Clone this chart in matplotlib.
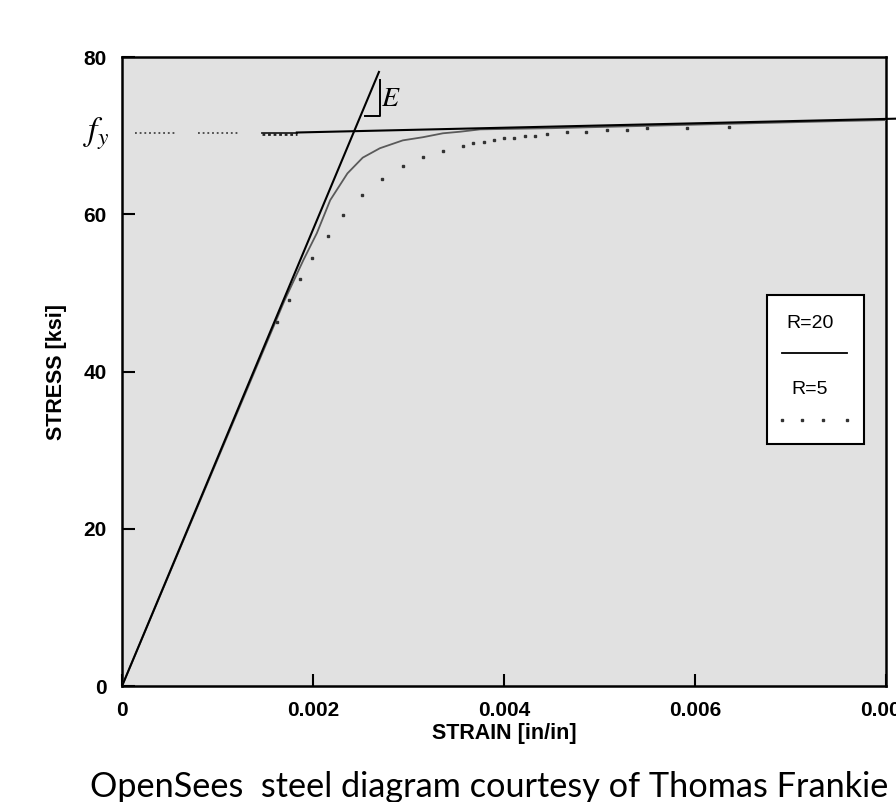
import matplotlib
matplotlib.use('Agg')
import matplotlib.pyplot as plt
from matplotlib.patches import Rectangle
from matplotlib.lines import Line2D

plt.rcParams['font.family'] = ['Liberation Sans', 'DejaVu Sans']
plt.rcParams['mathtext.fontset'] = 'stix'

# Values (strain in in/in, stress in ksi)
elastic_strain = [0.0, 0.00269]
elastic_stress = [0.0, 78.1]

fy_strain = [0.00183, 0.00825]
fy_stress = [70.4, 72.2]

fy_ref_strain = [[0.000136, 0.000576], [0.0008, 0.00124]]
fy_ref_stress = 70.4
fy_tick_strain = [0.00147, 0.00183]

r20_strain = [0.0, 0.0017, 0.0019, 0.00204, 0.00218, 0.00236, 0.00252, 0.0027,
              0.00294, 0.00315, 0.00336, 0.00354, 0.00375, 0.0045, 0.0055,
              0.0065, 0.0075, 0.00825]
r20_stress = [0.0, 49.0, 54.2, 57.6, 61.8, 65.2, 67.2, 68.4,
              69.4, 69.8, 70.3, 70.5, 70.8, 70.95, 71.25,
              71.55, 71.85, 72.05]

r5_strain = [0.00162, 0.00175, 0.00186, 0.00199, 0.00216, 0.00231, 0.00251,
             0.00272, 0.00294, 0.00315, 0.00336, 0.00357, 0.00368, 0.00379,
             0.0039, 0.004, 0.0041, 0.00422, 0.00432, 0.00445, 0.00466,
             0.00486, 0.00508, 0.00529, 0.0055, 0.00592, 0.00636]
r5_stress = [46.3, 49.1, 51.8, 54.4, 57.2, 59.9, 62.4,
             64.5, 66.1, 67.3, 68.0, 68.7, 69.1, 69.2,
             69.4, 69.7, 69.7, 70.0, 70.0, 70.2, 70.5,
             70.5, 70.7, 70.7, 71.0, 71.0, 71.1]

x_ticks = [0, 0.002, 0.004, 0.006, 0.008]
x_labels = ['0', '0.002', '0.004', '0.006', '0.008']
y_ticks = [0, 20, 40, 60, 80]
y_labels = ['0', '20', '40', '60', '80']

fig = plt.figure(figsize=(8.96, 8.02), dpi=100)
ax = fig.add_axes([0.1362, 0.1446, 0.8527, 0.7843])
ax.set_facecolor('#e1e1e1')

# Curves
ax.plot(r20_strain, r20_stress, color='#5a5a5a', lw=1.3, zorder=3)
ax.plot(r5_strain, r5_stress, linestyle='none', marker='s', markersize=1.8,
        color='#333333', zorder=3)
ax.plot(fy_strain, fy_stress, color='black', lw=1.5, zorder=4, clip_on=False)
ax.plot(elastic_strain, elastic_stress, color='black', lw=1.5, zorder=4)

# fy reference dotted line
for seg in fy_ref_strain:
    ax.plot(seg, [fy_ref_stress, fy_ref_stress], color='#444444', lw=1.3,
            linestyle=(0, (1, 1.6)))
ax.plot(fy_tick_strain, [fy_ref_stress, fy_ref_stress], color='#222222', lw=1.3)
ax.plot(fy_tick_strain, [fy_ref_stress - 0.15, fy_ref_stress - 0.15], color='#222222',
        lw=2.0, linestyle=(0, (1, 1)))

# E slope triangle
ax.plot([0.00254, 0.00270, 0.00270], [72.5, 72.5, 77.1], color='black', lw=1.4)
ax.text(0.00281, 74.6, '$E$', fontsize=20, ha='center', va='center')
ax.text(-0.00027, 70.2, '$f_y$', fontsize=24, ha='center', va='center', clip_on=False)

# Axes
ax.set_xlim(0, 0.008)
ax.set_ylim(0, 80)
ax.set_xticks(x_ticks)
ax.set_xticklabels(x_labels)
ax.set_yticks(y_ticks)
ax.set_yticklabels(y_labels)
ax.tick_params(direction='in', length=9, width=1.5, labelsize=15, pad=11)
for lab in ax.get_xticklabels() + ax.get_yticklabels():
    lab.set_fontweight('bold')
for sp in ax.spines.values():
    sp.set_linewidth(1.8)

ax.set_xlabel('STRAIN [in/in]', fontsize=15.5, fontweight='bold', labelpad=2)
ax.set_ylabel('STRESS [ksi]', fontsize=15.5, fontweight='bold', labelpad=12)

# Legend box drawn by hand
ax.add_patch(Rectangle((0.844, 0.385), 0.127, 0.237, transform=ax.transAxes,
                       facecolor='white', edgecolor='black', lw=1.5, zorder=5))
ax.text(0.9005, 0.577, 'R=20', transform=ax.transAxes, fontsize=14,
        ha='center', va='center', zorder=6)
ax.add_line(Line2D([0.864, 0.949], [0.529, 0.529], transform=ax.transAxes,
                   color='black', lw=1.3, zorder=6))
ax.text(0.9005, 0.471, 'R=5', transform=ax.transAxes, fontsize=14,
        ha='center', va='center', zorder=6)
ax.add_line(Line2D([0.864, 0.890, 0.918, 0.949], [0.423] * 4, transform=ax.transAxes,
                   linestyle='none', marker='s', markersize=1.8, color='#333333',
                   zorder=6))

fig.text(0.100, 1 - 797 / 802, 'OpenSees  steel diagram courtesy of Thomas Frankie',
         fontsize=24.7, family=['Lato', 'DejaVu Sans'], ha='left', va='baseline')

fig.savefig('out.png', dpi=100)
